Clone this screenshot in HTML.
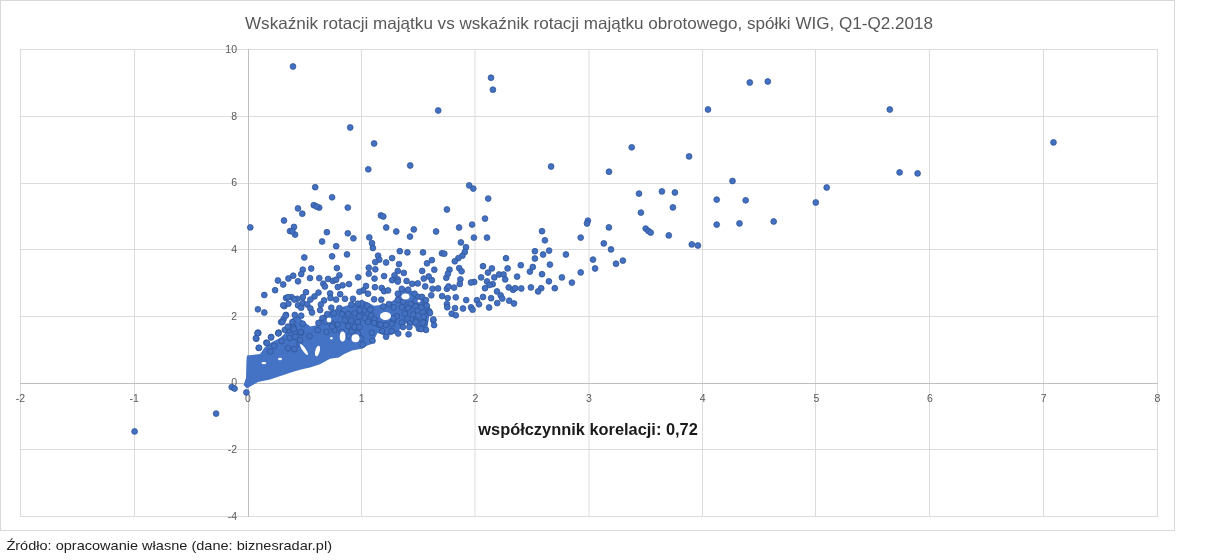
<!DOCTYPE html>
<html><head><meta charset="utf-8"><style>
html,body{margin:0;padding:0;background:#fff;width:1225px;height:560px;overflow:hidden}
svg{display:block;will-change:transform}
.wrap{width:1225px;height:560px}
text{font-family:"Liberation Sans",sans-serif}
.lab{font-size:10.5px;fill:#595959}
.title{font-size:16.5px;fill:#595959}
.corr{font-size:16px;font-weight:bold;fill:#1a1a1a}
.foot{font-size:13.5px;fill:#222}
</style></head><body>
<div class="wrap"><svg width="1225" height="560" viewBox="0 0 1225 560">
<rect x="0.5" y="0.5" width="1174" height="530" fill="#fff" stroke="#d9d9d9"/>
<path d="M20.5 49V517 M134.5 49V517 M361.5 49V517 M475 49V517 M589 49V517 M702.5 49V517 M815.5 49V517 M929.5 49V517 M1043.5 49V517 M1157.5 49V517 M20 49.5H1158 M20 116.5H1158 M20 183.5H1158 M20 249.5H1158 M20 316.5H1158 M20 449.5H1158 M20 516.5H1158" stroke="#dcdcdc" stroke-width="1" fill="none"/>
<path d="M248.5 49V517M20 383.5H1158" stroke="#bfbfbf" stroke-width="1" fill="none"/>
<text x="237" y="519.8" text-anchor="end" class="lab">-4</text>
<text x="237" y="453.1" text-anchor="end" class="lab">-2</text>
<text x="237" y="386.4" text-anchor="end" class="lab">0</text>
<text x="237" y="319.6" text-anchor="end" class="lab">2</text>
<text x="237" y="252.9" text-anchor="end" class="lab">4</text>
<text x="237" y="186.2" text-anchor="end" class="lab">6</text>
<text x="237" y="119.5" text-anchor="end" class="lab">8</text>
<text x="237" y="52.8" text-anchor="end" class="lab">10</text>
<text x="20.5" y="402.0" text-anchor="middle" class="lab">-2</text>
<text x="134.2" y="402.0" text-anchor="middle" class="lab">-1</text>
<text x="247.9" y="402.0" text-anchor="middle" class="lab">0</text>
<text x="361.6" y="402.0" text-anchor="middle" class="lab">1</text>
<text x="475.3" y="402.0" text-anchor="middle" class="lab">2</text>
<text x="589.0" y="402.0" text-anchor="middle" class="lab">3</text>
<text x="702.7" y="402.0" text-anchor="middle" class="lab">4</text>
<text x="816.4" y="402.0" text-anchor="middle" class="lab">5</text>
<text x="930.0" y="402.0" text-anchor="middle" class="lab">6</text>
<text x="1043.7" y="402.0" text-anchor="middle" class="lab">7</text>
<text x="1157.4" y="402.0" text-anchor="middle" class="lab">8</text>
<path d="M247 355.5 L260 354 L265 347 L272 342 L280 338 L284.8 333.4 L289.6 323.7 L291.2 318.9 L297.6 315.7 L304 322 L310.5 326.6 L316.9 325 L320.1 317.3 L326.5 312.5 L339.4 307.7 L355.5 302.9 L363 299.6 L366 330 L368 344 L363 348.5 L352 350.5 L343.8 354.3 L338.8 357.4 L330 358.8 L320 364.3 L310 367.5 L302 369.2 L294 371.6 L282 375.6 L270 379.5 L258 382 L251 386 L247 388.5 L243.5 385 L246 378 L246.5 360Z" fill="#4472c4"/>
<path d="M355 302.5 L364.6 300.9 L374.3 305.7 L387.1 304.1 L395.2 299.3 L396.8 291.2 L406.4 288.0 L416 292.9 L425.7 297.7 L430.5 308.9 L428.9 318.6 L427.3 328.2 L422.5 331.4 L416 328.2 L409.6 321.8 L403.2 325 L396.8 333 L387.1 336.2 L377.5 333 L374.3 339.4 L371.1 344.3 L361.4 347.5 L355 349Z" fill="#4472c4"/>
<g fill="#4370c0" stroke="#2f559a" stroke-width="0.8"><circle cx="293.0" cy="66.5" r="2.9"/><circle cx="438.2" cy="110.5" r="2.9"/><circle cx="350.2" cy="127.5" r="2.9"/><circle cx="374.1" cy="143.5" r="2.9"/><circle cx="368.3" cy="169.3" r="2.9"/><circle cx="410.2" cy="165.5" r="2.9"/><circle cx="491.0" cy="77.7" r="2.9"/><circle cx="492.9" cy="89.7" r="2.9"/><circle cx="551.1" cy="166.5" r="2.9"/><circle cx="631.7" cy="147.3" r="2.9"/><circle cx="609.0" cy="171.7" r="2.9"/><circle cx="689.1" cy="156.4" r="2.9"/><circle cx="708.0" cy="109.5" r="2.9"/><circle cx="749.8" cy="82.5" r="2.9"/><circle cx="767.8" cy="81.5" r="2.9"/><circle cx="889.8" cy="109.5" r="2.9"/><circle cx="732.5" cy="181.0" r="2.9"/><circle cx="899.6" cy="172.4" r="2.9"/><circle cx="917.6" cy="173.4" r="2.9"/><circle cx="1053.5" cy="142.4" r="2.9"/><circle cx="716.7" cy="199.6" r="2.9"/><circle cx="745.7" cy="200.3" r="2.9"/><circle cx="716.7" cy="224.6" r="2.9"/><circle cx="739.5" cy="223.4" r="2.9"/><circle cx="773.7" cy="221.5" r="2.9"/><circle cx="815.8" cy="202.5" r="2.9"/><circle cx="826.7" cy="187.5" r="2.9"/><circle cx="639.0" cy="193.6" r="2.9"/><circle cx="661.9" cy="191.4" r="2.9"/><circle cx="674.9" cy="192.5" r="2.9"/><circle cx="672.9" cy="207.4" r="2.9"/><circle cx="640.9" cy="212.6" r="2.9"/><circle cx="608.9" cy="227.4" r="2.9"/><circle cx="645.7" cy="228.6" r="2.9"/><circle cx="648.4" cy="231.0" r="2.9"/><circle cx="650.7" cy="232.6" r="2.9"/><circle cx="668.8" cy="235.4" r="2.9"/><circle cx="603.8" cy="243.4" r="2.9"/><circle cx="611.0" cy="249.4" r="2.9"/><circle cx="691.8" cy="244.4" r="2.9"/><circle cx="697.9" cy="245.5" r="2.9"/><circle cx="593.0" cy="259.6" r="2.9"/><circle cx="595.1" cy="268.5" r="2.9"/><circle cx="616.0" cy="263.7" r="2.9"/><circle cx="622.9" cy="260.6" r="2.9"/><circle cx="134.6" cy="431.4" r="2.9"/><circle cx="216.1" cy="413.6" r="2.9"/><circle cx="231.7" cy="387.1" r="2.9"/><circle cx="234.6" cy="388.6" r="2.9"/><circle cx="246.4" cy="392.4" r="2.9"/><circle cx="488.2" cy="198.6" r="2.9"/><circle cx="485.0" cy="218.6" r="2.9"/><circle cx="487.0" cy="237.6" r="2.9"/><circle cx="542.0" cy="231.2" r="2.9"/><circle cx="544.9" cy="240.3" r="2.9"/><circle cx="580.7" cy="237.6" r="2.9"/><circle cx="587.9" cy="220.7" r="2.9"/><circle cx="587.0" cy="223.5" r="2.9"/><circle cx="534.9" cy="251.2" r="2.9"/><circle cx="549.1" cy="250.6" r="2.9"/><circle cx="543.1" cy="254.5" r="2.9"/><circle cx="534.9" cy="258.5" r="2.9"/><circle cx="565.9" cy="254.5" r="2.9"/><circle cx="506.0" cy="258.2" r="2.9"/><circle cx="483.0" cy="266.2" r="2.9"/><circle cx="491.9" cy="268.4" r="2.9"/><circle cx="487.9" cy="272.6" r="2.9"/><circle cx="507.6" cy="268.4" r="2.9"/><circle cx="520.8" cy="265.2" r="2.9"/><circle cx="532.8" cy="267.0" r="2.9"/><circle cx="529.9" cy="271.6" r="2.9"/><circle cx="549.9" cy="264.6" r="2.9"/><circle cx="542.0" cy="274.2" r="2.9"/><circle cx="580.7" cy="272.4" r="2.9"/><circle cx="561.9" cy="277.4" r="2.9"/><circle cx="571.9" cy="282.6" r="2.9"/><circle cx="548.9" cy="281.3" r="2.9"/><circle cx="554.8" cy="288.2" r="2.9"/><circle cx="517.1" cy="276.6" r="2.9"/><circle cx="481.1" cy="277.4" r="2.9"/><circle cx="474.2" cy="282.0" r="2.9"/><circle cx="494.3" cy="277.4" r="2.9"/><circle cx="499.1" cy="274.5" r="2.9"/><circle cx="503.6" cy="274.5" r="2.9"/><circle cx="505.2" cy="279.4" r="2.9"/><circle cx="487.0" cy="281.4" r="2.9"/><circle cx="492.7" cy="284.2" r="2.9"/><circle cx="489.5" cy="285.0" r="2.9"/><circle cx="485.0" cy="288.2" r="2.9"/><circle cx="508.7" cy="287.4" r="2.9"/><circle cx="513.1" cy="289.8" r="2.9"/><circle cx="515.2" cy="288.2" r="2.9"/><circle cx="521.3" cy="288.5" r="2.9"/><circle cx="530.9" cy="287.4" r="2.9"/><circle cx="541.2" cy="288.2" r="2.9"/><circle cx="538.1" cy="291.4" r="2.9"/><circle cx="497.0" cy="291.4" r="2.9"/><circle cx="500.7" cy="295.4" r="2.9"/><circle cx="502.3" cy="298.6" r="2.9"/><circle cx="483.0" cy="297.0" r="2.9"/><circle cx="491.1" cy="298.2" r="2.9"/><circle cx="476.9" cy="300.2" r="2.9"/><circle cx="479.0" cy="304.3" r="2.9"/><circle cx="509.2" cy="300.7" r="2.9"/><circle cx="514.0" cy="303.5" r="2.9"/><circle cx="497.2" cy="303.1" r="2.9"/><circle cx="489.1" cy="307.5" r="2.9"/><circle cx="469.2" cy="185.4" r="2.9"/><circle cx="473.3" cy="188.6" r="2.9"/><circle cx="446.9" cy="209.5" r="2.9"/><circle cx="380.9" cy="215.4" r="2.9"/><circle cx="383.3" cy="216.5" r="2.9"/><circle cx="386.2" cy="227.5" r="2.9"/><circle cx="396.3" cy="231.5" r="2.9"/><circle cx="413.8" cy="229.4" r="2.9"/><circle cx="410.0" cy="236.6" r="2.9"/><circle cx="436.1" cy="231.5" r="2.9"/><circle cx="459.1" cy="227.5" r="2.9"/><circle cx="472.1" cy="224.6" r="2.9"/><circle cx="473.9" cy="237.6" r="2.9"/><circle cx="460.9" cy="242.4" r="2.9"/><circle cx="466.0" cy="247.2" r="2.9"/><circle cx="369.3" cy="237.4" r="2.9"/><circle cx="372.0" cy="243.2" r="2.9"/><circle cx="372.9" cy="248.0" r="2.9"/><circle cx="399.8" cy="251.2" r="2.9"/><circle cx="407.4" cy="252.4" r="2.9"/><circle cx="378.1" cy="255.7" r="2.9"/><circle cx="392.1" cy="258.1" r="2.9"/><circle cx="379.3" cy="259.7" r="2.9"/><circle cx="375.3" cy="262.1" r="2.9"/><circle cx="386.1" cy="262.5" r="2.9"/><circle cx="399.0" cy="264.1" r="2.9"/><circle cx="368.8" cy="267.7" r="2.9"/><circle cx="375.3" cy="269.3" r="2.9"/><circle cx="368.8" cy="273.7" r="2.9"/><circle cx="374.5" cy="278.6" r="2.9"/><circle cx="384.1" cy="276.1" r="2.9"/><circle cx="397.8" cy="270.9" r="2.9"/><circle cx="403.8" cy="272.9" r="2.9"/><circle cx="394.5" cy="275.3" r="2.9"/><circle cx="392.1" cy="280.2" r="2.9"/><circle cx="397.8" cy="279.4" r="2.9"/><circle cx="406.6" cy="281.0" r="2.9"/><circle cx="412.2" cy="283.8" r="2.9"/><circle cx="417.8" cy="283.4" r="2.9"/><circle cx="423.0" cy="252.4" r="2.9"/><circle cx="441.9" cy="253.3" r="2.9"/><circle cx="444.3" cy="253.7" r="2.9"/><circle cx="464.8" cy="252.0" r="2.9"/><circle cx="462.4" cy="255.7" r="2.9"/><circle cx="458.4" cy="258.1" r="2.9"/><circle cx="454.8" cy="261.3" r="2.9"/><circle cx="431.9" cy="260.1" r="2.9"/><circle cx="427.0" cy="263.3" r="2.9"/><circle cx="422.2" cy="270.9" r="2.9"/><circle cx="434.3" cy="269.7" r="2.9"/><circle cx="428.7" cy="276.5" r="2.9"/><circle cx="431.9" cy="280.2" r="2.9"/><circle cx="423.8" cy="278.6" r="2.9"/><circle cx="449.5" cy="269.7" r="2.9"/><circle cx="446.3" cy="277.8" r="2.9"/><circle cx="447.9" cy="273.7" r="2.9"/><circle cx="459.2" cy="268.1" r="2.9"/><circle cx="461.6" cy="271.3" r="2.9"/><circle cx="460.4" cy="279.4" r="2.9"/><circle cx="397.8" cy="281.6" r="2.9"/><circle cx="366.0" cy="286.0" r="2.9"/><circle cx="374.9" cy="287.2" r="2.9"/><circle cx="363.2" cy="290.4" r="2.9"/><circle cx="368.0" cy="293.7" r="2.9"/><circle cx="381.7" cy="288.0" r="2.9"/><circle cx="384.1" cy="291.2" r="2.9"/><circle cx="388.1" cy="290.4" r="2.9"/><circle cx="401.8" cy="288.8" r="2.9"/><circle cx="397.8" cy="293.7" r="2.9"/><circle cx="408.2" cy="289.6" r="2.9"/><circle cx="414.6" cy="293.7" r="2.9"/><circle cx="418.6" cy="296.9" r="2.9"/><circle cx="415.4" cy="300.9" r="2.9"/><circle cx="374.1" cy="299.3" r="2.9"/><circle cx="381.3" cy="299.7" r="2.9"/><circle cx="361.6" cy="303.3" r="2.9"/><circle cx="367.2" cy="305.7" r="2.9"/><circle cx="397.8" cy="300.1" r="2.9"/><circle cx="403.4" cy="301.7" r="2.9"/><circle cx="410.6" cy="304.1" r="2.9"/><circle cx="383.3" cy="306.5" r="2.9"/><circle cx="388.9" cy="304.1" r="2.9"/><circle cx="393.7" cy="307.3" r="2.9"/><circle cx="401.8" cy="307.3" r="2.9"/><circle cx="408.2" cy="308.1" r="2.9"/><circle cx="415.4" cy="306.5" r="2.9"/><circle cx="417.8" cy="310.5" r="2.9"/><circle cx="370.4" cy="309.7" r="2.9"/><circle cx="364.0" cy="310.5" r="2.9"/><circle cx="360.0" cy="312.1" r="2.9"/><circle cx="364.8" cy="317.8" r="2.9"/><circle cx="371.2" cy="315.3" r="2.9"/><circle cx="374.5" cy="319.4" r="2.9"/><circle cx="368.0" cy="321.8" r="2.9"/><circle cx="393.3" cy="321.0" r="2.9"/><circle cx="397.0" cy="316.1" r="2.9"/><circle cx="405.0" cy="313.7" r="2.9"/><circle cx="407.4" cy="318.6" r="2.9"/><circle cx="413.0" cy="314.5" r="2.9"/><circle cx="416.2" cy="320.2" r="2.9"/><circle cx="378.5" cy="324.5" r="2.9"/><circle cx="386.0" cy="325.0" r="2.9"/><circle cx="401.8" cy="322.6" r="2.9"/><circle cx="409.8" cy="323.4" r="2.9"/><circle cx="425.2" cy="286.4" r="2.9"/><circle cx="432.5" cy="288.8" r="2.9"/><circle cx="438.1" cy="288.4" r="2.9"/><circle cx="431.3" cy="295.3" r="2.9"/><circle cx="422.0" cy="296.9" r="2.9"/><circle cx="426.0" cy="300.1" r="2.9"/><circle cx="421.2" cy="304.9" r="2.9"/><circle cx="426.8" cy="305.7" r="2.9"/><circle cx="429.2" cy="311.3" r="2.9"/><circle cx="422.8" cy="312.1" r="2.9"/><circle cx="423.6" cy="317.0" r="2.9"/><circle cx="433.3" cy="320.2" r="2.9"/><circle cx="424.4" cy="322.6" r="2.9"/><circle cx="446.9" cy="288.8" r="2.9"/><circle cx="448.5" cy="286.4" r="2.9"/><circle cx="454.1" cy="287.6" r="2.9"/><circle cx="459.8" cy="284.0" r="2.9"/><circle cx="442.1" cy="296.1" r="2.9"/><circle cx="447.7" cy="298.1" r="2.9"/><circle cx="446.9" cy="304.1" r="2.9"/><circle cx="447.3" cy="307.3" r="2.9"/><circle cx="455.8" cy="297.3" r="2.9"/><circle cx="455.0" cy="308.1" r="2.9"/><circle cx="451.7" cy="313.7" r="2.9"/><circle cx="455.8" cy="315.3" r="2.9"/><circle cx="463.0" cy="308.5" r="2.9"/><circle cx="466.2" cy="300.1" r="2.9"/><circle cx="471.0" cy="307.3" r="2.9"/><circle cx="472.6" cy="309.7" r="2.9"/><circle cx="315.2" cy="187.2" r="2.9"/><circle cx="332.1" cy="197.3" r="2.9"/><circle cx="347.8" cy="207.6" r="2.9"/><circle cx="298.0" cy="208.4" r="2.9"/><circle cx="302.3" cy="213.7" r="2.9"/><circle cx="313.8" cy="205.2" r="2.9"/><circle cx="319.2" cy="207.6" r="2.9"/><circle cx="316.5" cy="206.5" r="2.9"/><circle cx="284.0" cy="220.5" r="2.9"/><circle cx="250.3" cy="227.4" r="2.9"/><circle cx="294.0" cy="226.9" r="2.9"/><circle cx="290.0" cy="231.1" r="2.9"/><circle cx="295.1" cy="234.6" r="2.9"/><circle cx="292.4" cy="231.4" r="2.9"/><circle cx="326.9" cy="232.2" r="2.9"/><circle cx="322.1" cy="241.5" r="2.9"/><circle cx="336.2" cy="246.2" r="2.9"/><circle cx="347.8" cy="233.3" r="2.9"/><circle cx="353.4" cy="238.3" r="2.9"/><circle cx="304.3" cy="257.4" r="2.9"/><circle cx="332.1" cy="256.3" r="2.9"/><circle cx="347.0" cy="254.4" r="2.9"/><circle cx="302.8" cy="269.7" r="2.9"/><circle cx="301.2" cy="274.1" r="2.9"/><circle cx="298.0" cy="281.3" r="2.9"/><circle cx="293.2" cy="275.7" r="2.9"/><circle cx="288.4" cy="278.5" r="2.9"/><circle cx="283.2" cy="284.5" r="2.9"/><circle cx="277.9" cy="280.5" r="2.9"/><circle cx="275.1" cy="290.2" r="2.9"/><circle cx="264.3" cy="295.0" r="2.9"/><circle cx="311.2" cy="268.5" r="2.9"/><circle cx="310.0" cy="278.1" r="2.9"/><circle cx="319.3" cy="278.1" r="2.9"/><circle cx="336.9" cy="268.1" r="2.9"/><circle cx="339.4" cy="275.3" r="2.9"/><circle cx="328.1" cy="278.9" r="2.9"/><circle cx="332.9" cy="280.9" r="2.9"/><circle cx="336.1" cy="279.7" r="2.9"/><circle cx="323.3" cy="283.7" r="2.9"/><circle cx="324.9" cy="286.5" r="2.9"/><circle cx="337.8" cy="287.0" r="2.9"/><circle cx="342.6" cy="285.3" r="2.9"/><circle cx="349.0" cy="284.1" r="2.9"/><circle cx="358.2" cy="277.3" r="2.9"/><circle cx="306.0" cy="292.2" r="2.9"/><circle cx="318.5" cy="292.6" r="2.9"/><circle cx="330.1" cy="293.4" r="2.9"/><circle cx="340.2" cy="294.2" r="2.9"/><circle cx="359.4" cy="291.8" r="2.9"/><circle cx="257.9" cy="309.3" r="2.9"/><circle cx="264.3" cy="312.5" r="2.9"/><circle cx="286.0" cy="298.0" r="2.9"/><circle cx="291.6" cy="297.2" r="2.9"/><circle cx="297.2" cy="298.8" r="2.9"/><circle cx="302.8" cy="297.2" r="2.9"/><circle cx="284.4" cy="306.1" r="2.9"/><circle cx="288.4" cy="303.7" r="2.9"/><circle cx="298.0" cy="305.3" r="2.9"/><circle cx="301.2" cy="307.7" r="2.9"/><circle cx="302.8" cy="302.9" r="2.9"/><circle cx="286.0" cy="314.9" r="2.9"/><circle cx="281.1" cy="322.1" r="2.9"/><circle cx="283.6" cy="318.9" r="2.9"/><circle cx="294.8" cy="314.9" r="2.9"/><circle cx="301.2" cy="315.7" r="2.9"/><circle cx="302.8" cy="323.7" r="2.9"/><circle cx="292.4" cy="322.1" r="2.9"/><circle cx="293.2" cy="327.0" r="2.9"/><circle cx="288.4" cy="330.2" r="2.9"/><circle cx="294.8" cy="331.8" r="2.9"/><circle cx="278.7" cy="332.6" r="2.9"/><circle cx="257.9" cy="332.6" r="2.9"/><circle cx="301.2" cy="332.6" r="2.9"/><circle cx="345.0" cy="298.8" r="2.9"/><circle cx="336.1" cy="299.6" r="2.9"/><circle cx="330.5" cy="298.0" r="2.9"/><circle cx="324.1" cy="300.4" r="2.9"/><circle cx="320.9" cy="304.5" r="2.9"/><circle cx="320.1" cy="310.1" r="2.9"/><circle cx="314.5" cy="296.4" r="2.9"/><circle cx="310.4" cy="299.6" r="2.9"/><circle cx="307.2" cy="304.5" r="2.9"/><circle cx="310.4" cy="308.5" r="2.9"/><circle cx="312.0" cy="312.5" r="2.9"/><circle cx="353.0" cy="298.8" r="2.9"/><circle cx="351.4" cy="304.5" r="2.9"/><circle cx="357.8" cy="303.7" r="2.9"/><circle cx="359.4" cy="310.1" r="2.9"/><circle cx="331.3" cy="307.7" r="2.9"/><circle cx="339.4" cy="308.1" r="2.9"/><circle cx="327.3" cy="314.1" r="2.9"/><circle cx="333.7" cy="313.3" r="2.9"/><circle cx="341.8" cy="314.1" r="2.9"/><circle cx="348.2" cy="314.1" r="2.9"/><circle cx="354.6" cy="313.3" r="2.9"/><circle cx="359.4" cy="316.5" r="2.9"/><circle cx="322.5" cy="318.1" r="2.9"/><circle cx="318.5" cy="322.9" r="2.9"/><circle cx="332.1" cy="323.7" r="2.9"/><circle cx="337.8" cy="324.5" r="2.9"/><circle cx="345.0" cy="320.5" r="2.9"/><circle cx="351.4" cy="320.5" r="2.9"/><circle cx="357.8" cy="322.1" r="2.9"/><circle cx="348.2" cy="326.1" r="2.9"/><circle cx="354.6" cy="327.0" r="2.9"/><circle cx="359.4" cy="327.0" r="2.9"/><circle cx="317.7" cy="330.2" r="2.9"/><circle cx="326.5" cy="331.8" r="2.9"/><circle cx="334.5" cy="330.2" r="2.9"/><circle cx="341.8" cy="331.8" r="2.9"/><circle cx="351.4" cy="331.8" r="2.9"/><circle cx="357.8" cy="333.4" r="2.9"/><circle cx="258.3" cy="333.0" r="2.9"/><circle cx="256.3" cy="338.7" r="2.9"/><circle cx="258.7" cy="347.9" r="2.9"/><circle cx="266.3" cy="342.7" r="2.9"/><circle cx="271.1" cy="337.0" r="2.9"/><circle cx="278.3" cy="333.0" r="2.9"/><circle cx="284.8" cy="329.8" r="2.9"/><circle cx="274.3" cy="345.9" r="2.9"/><circle cx="270.3" cy="351.5" r="2.9"/><circle cx="288.0" cy="326.6" r="2.9"/><circle cx="293.6" cy="329.0" r="2.9"/><circle cx="300.8" cy="332.2" r="2.9"/><circle cx="281.6" cy="341.1" r="2.9"/><circle cx="289.6" cy="337.9" r="2.9"/><circle cx="295.2" cy="337.0" r="2.9"/><circle cx="299.2" cy="343.5" r="2.9"/><circle cx="288.0" cy="348.3" r="2.9"/><circle cx="294.4" cy="349.1" r="2.9"/><circle cx="325.7" cy="321.6" r="2.9"/><circle cx="332.1" cy="326.4" r="2.9"/><circle cx="309.6" cy="336.1" r="2.9"/><circle cx="300.0" cy="340.0" r="2.9"/><circle cx="349.0" cy="336.1" r="2.9"/><circle cx="361.0" cy="338.5" r="2.9"/><circle cx="372.5" cy="340.7" r="2.9"/><circle cx="362.8" cy="344.7" r="2.9"/><circle cx="371.7" cy="332.7" r="2.9"/><circle cx="374.1" cy="323.0" r="2.9"/><circle cx="382.1" cy="331.1" r="2.9"/><circle cx="386.1" cy="336.7" r="2.9"/><circle cx="380.5" cy="324.6" r="2.9"/><circle cx="391.7" cy="323.8" r="2.9"/><circle cx="391.7" cy="331.1" r="2.9"/><circle cx="398.2" cy="333.5" r="2.9"/><circle cx="393.3" cy="318.2" r="2.9"/><circle cx="403.0" cy="327.0" r="2.9"/><circle cx="409.4" cy="327.0" r="2.9"/><circle cx="408.6" cy="334.3" r="2.9"/><circle cx="415.8" cy="322.2" r="2.9"/><circle cx="419.0" cy="328.7" r="2.9"/><circle cx="433.3" cy="319.5" r="2.9"/><circle cx="434.1" cy="325.1" r="2.9"/><circle cx="426.0" cy="329.9" r="2.9"/><circle cx="421.2" cy="329.1" r="2.9"/><circle cx="422.8" cy="322.7" r="2.9"/><circle cx="421.2" cy="307.4" r="2.9"/><circle cx="430.0" cy="313.0" r="2.9"/><circle cx="257.5" cy="333.4" r="2.9"/><circle cx="255.9" cy="338.2" r="2.9"/><circle cx="259.1" cy="347.8" r="2.9"/><circle cx="267.1" cy="343.0" r="2.9"/><circle cx="271.1" cy="337.4" r="2.9"/><circle cx="278.3" cy="333.4" r="2.9"/><circle cx="282.4" cy="322.1" r="2.9"/><circle cx="285.6" cy="315.7" r="2.9"/><circle cx="283.2" cy="305.3" r="2.9"/><circle cx="288.0" cy="297.2" r="2.9"/><circle cx="294.4" cy="299.6" r="2.9"/><circle cx="471.0" cy="282.5" r="2.9"/></g>
<g fill="#fff"><ellipse cx="385.5" cy="316" rx="5.5" ry="4" transform="rotate(0 385.5 316)"/><ellipse cx="405.5" cy="296.5" rx="4" ry="3" transform="rotate(0 405.5 296.5)"/><ellipse cx="419" cy="301" rx="1.5" ry="1.5" transform="rotate(0 419 301)"/><ellipse cx="280" cy="359" rx="2" ry="1.2" transform="rotate(0 280 359)"/><ellipse cx="263.9" cy="363.1" rx="2.4" ry="1.2" transform="rotate(0 263.9 363.1)"/><ellipse cx="304" cy="349.5" rx="1.6" ry="6.5" transform="rotate(-35 304 349.5)"/><ellipse cx="317.5" cy="351" rx="2.2" ry="5.5" transform="rotate(15 317.5 351)"/><ellipse cx="342.6" cy="336.6" rx="2.8" ry="5" transform="rotate(0 342.6 336.6)"/><ellipse cx="355.5" cy="338.2" rx="4" ry="4" transform="rotate(0 355.5 338.2)"/><ellipse cx="329" cy="320" rx="2.4" ry="2.4" transform="rotate(0 329 320)"/><ellipse cx="331.4" cy="338.2" rx="1.2" ry="1.2" transform="rotate(0 331.4 338.2)"/></g>
<text x="245" y="28.8" class="title" textLength="688" lengthAdjust="spacingAndGlyphs">Wskaźnik rotacji majątku vs wskaźnik rotacji majątku obrotowego, spółki WIG, Q1-Q2.2018</text>
<text x="478.3" y="434.6" class="corr" textLength="219.5" lengthAdjust="spacingAndGlyphs">współczynnik korelacji: 0,72</text>
<text x="6.4" y="549.7" class="foot" textLength="325.6" lengthAdjust="spacingAndGlyphs">Źródło: opracowanie własne (dane: biznesradar.pl)</text>
</svg></div></body></html>
